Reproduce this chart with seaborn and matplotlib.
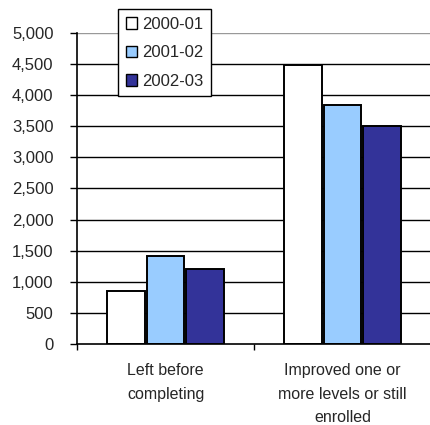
import numpy as np
import pandas as pd
import seaborn as sns
import matplotlib.pyplot as plt
from matplotlib.ticker import FuncFormatter, FixedLocator

# datos del grafico
categorias = ["Left before\ncompleting", "Improved one or\nmore levels or still\nenrolled"]
anios = ["2000-01", "2001-02", "2002-03"]
valores_2000 = [850, 4480]
valores_2001 = [1410, 3850]
valores_2002 = [1200, 3500]
colores = ["#FFFFFF", "#99CCFF", "#333399"]
y_ticks = [0, 500, 1000, 1500, 2000, 2500, 3000, 3500, 4000, 4500, 5000]

df = pd.DataFrame({
    "categoria": categorias * 3,
    "anio": [anios[0]] * 2 + [anios[1]] * 2 + [anios[2]] * 2,
    "valor": valores_2000 + valores_2001 + valores_2002,
})

sns.set_style("white")
plt.rcParams["font.family"] = ["Liberation Sans", "DejaVu Sans"]

fig = plt.figure(figsize=(4.31, 4.25), dpi=100)
ax = fig.add_axes([0.179, 0.191, 0.821, 0.731])

sns.barplot(data=df, x="categoria", y="valor", hue="anio", palette=colores,
            saturation=1, width=0.67, gap=0.05, edgecolor="black", linewidth=1.4,
            ax=ax, legend=False)

ax.set_ylim(0, 5000)
ax.set_xlim(-0.5, 1.5)
ax.set_yticks(y_ticks)
ax.yaxis.set_major_formatter(FuncFormatter(lambda v, p: f"{int(v):,}"))
ax.set_axisbelow(True)
for v in y_ticks[1:]:
    ax.axhline(v, color="#999999" if v == 5000 else "black", linewidth=1, zorder=0)

ax.set_xlabel("")
ax.set_ylabel("")
ax.tick_params(axis="y", direction="out", length=5, width=1, color="black",
               labelsize=12, left=True, pad=12)
ax.set_xticks([0, 1])
ax.set_xticklabels(categorias, linespacing=1.7)
ax.tick_params(axis="x", which="major", length=0, labelsize=11.5, pad=14)
ax.xaxis.set_minor_locator(FixedLocator([-0.5, 0.5, 1.5]))
ax.tick_params(axis="x", which="minor", direction="out", length=4, width=1,
               color="black", bottom=True)

for lado in ["top", "right"]:
    ax.spines[lado].set_visible(False)
for lado in ["left", "bottom"]:
    ax.spines[lado].set_color("black")
    ax.spines[lado].set_linewidth(1.2)

handles = [plt.Rectangle((0, 0), 1, 1, facecolor=c, edgecolor="black", linewidth=1)
           for c in colores]
leg = fig.legend(handles, anios, loc="upper left", bbox_to_anchor=(0.274, 0.978),
                 fancybox=False, framealpha=1, edgecolor="black", fontsize=12,
                 handlelength=0.7, handleheight=0.7, handletextpad=0.3,
                 labelspacing=0.8, borderpad=0.45, borderaxespad=0)
leg.get_frame().set_linewidth(1)

fig.savefig("out.png", dpi=100)
